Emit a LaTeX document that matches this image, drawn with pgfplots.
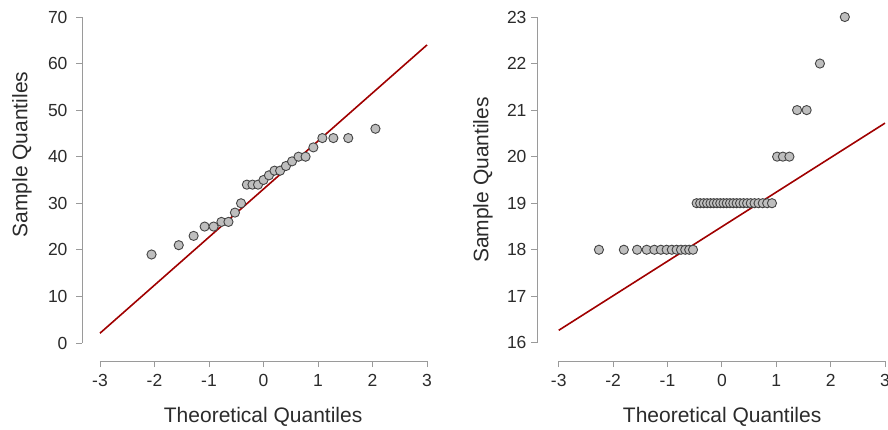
\documentclass[border=0pt]{standalone}
\usepackage{pgfplots}
\pgfplotsset{compat=1.18}
\usepackage{fontspec}
\setmainfont{Liberation Sans}
\definecolor{axgray}{HTML}{9A9A9A}
\definecolor{txt}{HTML}{2B2B2B}
\definecolor{qqred}{HTML}{A00000}
\definecolor{ptfill}{HTML}{BEBEBE}
\definecolor{ptdraw}{HTML}{444444}
\pgfplotsset{
 qq/.style={
  scale only axis, anchor=south west,
  axis line style={draw=none},
  xtick={-3,-2,-1,0,1,2,3}, xtick pos=bottom, ytick pos=left,
  tick align=outside, major tick length=6pt,
  tick style={axgray, line width=0.8pt},
  ticklabel style={font=\fontsize{17.5}{20}\selectfont, text=txt},
  xticklabel style={yshift=-4pt},
  label style={font=\fontsize{21}{25}\selectfont, text=txt},
  /pgf/number format/assume math mode=true,
  clip=false,
  minor tick num=0,
 },
 pts/.style={only marks, mark=*, mark size=4.6pt, mark options={fill=ptfill, draw=ptdraw, line width=0.9pt}},
 qqline/.style={no marks, qqred, line width=1.6pt},
}
\begin{document}
\begin{tikzpicture}
\useasboundingbox (0,0) rectangle (888pt,429pt);
% left panel
\begin{axis}[qq, at={(82pt,68pt)}, width=345pt, height=344pt,
  xmin=-3.33, xmax=3, ymin=-3.87, ymax=70,
  ytick={0,10,20,30,40,50,60,70},
  yticklabel style={xshift=-5pt},
  ylabel style={at={(axis description cs:-0.174,0.6)}, anchor=center},
  xlabel style={at={(axis description cs:0.525,-0.163)}, anchor=center},
  xlabel={Theoretical Quantiles}, ylabel={Sample Quantiles}]
\draw[axgray, line width=0.8pt] (axis cs:-3,-3.87) -- (axis cs:3,-3.87);
\draw[axgray, line width=0.8pt] (axis cs:-3.33,0) -- (axis cs:-3.33,70);
\addplot[pts] coordinates {
(-2.054,19) (-1.555,21) (-1.282,23) (-1.080,25) (-0.915,25) (-0.772,26) (-0.643,26)
(-0.524,28) (-0.412,30) (-0.305,34) (-0.202,34) (-0.100,34) (0,35) (0.100,36)
(0.202,37) (0.305,37) (0.412,38) (0.524,39) (0.643,40) (0.772,40) (0.915,42)
(1.080,44) (1.282,44) (1.555,44) (2.054,46)};
\addplot[qqline] coordinates {(-3,2.1) (3,64.0)};
\end{axis}
% right panel
\begin{axis}[qq, at={(537pt,68pt)}, width=348pt, height=344pt,
  xmin=-3.40, xmax=3, ymin=15.61, ymax=23,
  ytick={16,17,18,19,20,21,22,23},
  yticklabel style={xshift=-1pt},
  ylabel style={at={(axis description cs:-0.155,0.526)}, anchor=center},
  xlabel style={at={(axis description cs:0.532,-0.163)}, anchor=center},
  xlabel={Theoretical Quantiles}, ylabel={Sample Quantiles}]
\draw[axgray, line width=0.8pt] (axis cs:-3,15.61) -- (axis cs:3,15.61);
\draw[axgray, line width=0.8pt] (axis cs:-3.40,16) -- (axis cs:-3.40,23);
\addplot[pts] coordinates {
(-2.261,18) (-1.803,18) (-1.559,18) (-1.383,18) (-1.242,18) (-1.122,18) (-1.016,18)
(-0.921,18) (-0.833,18) (-0.752,18) (-0.674,18) (-0.601,18) (-0.531,18)
(-0.464,19) (-0.399,19) (-0.334,19) (-0.272,19) (-0.210,19) (-0.150,19) (-0.090,19)
(-0.030,19) (0.030,19) (0.090,19) (0.150,19) (0.210,19) (0.272,19) (0.334,19)
(0.399,19) (0.464,19) (0.531,19) (0.601,19) (0.674,19) (0.752,19) (0.833,19) (0.921,19)
(1.016,20) (1.122,20) (1.242,20) (1.383,21) (1.559,21) (1.803,22) (2.261,23)};
\addplot[qqline] coordinates {(-3,16.27) (3,20.72)};
\end{axis}
\end{tikzpicture}
\end{document}
